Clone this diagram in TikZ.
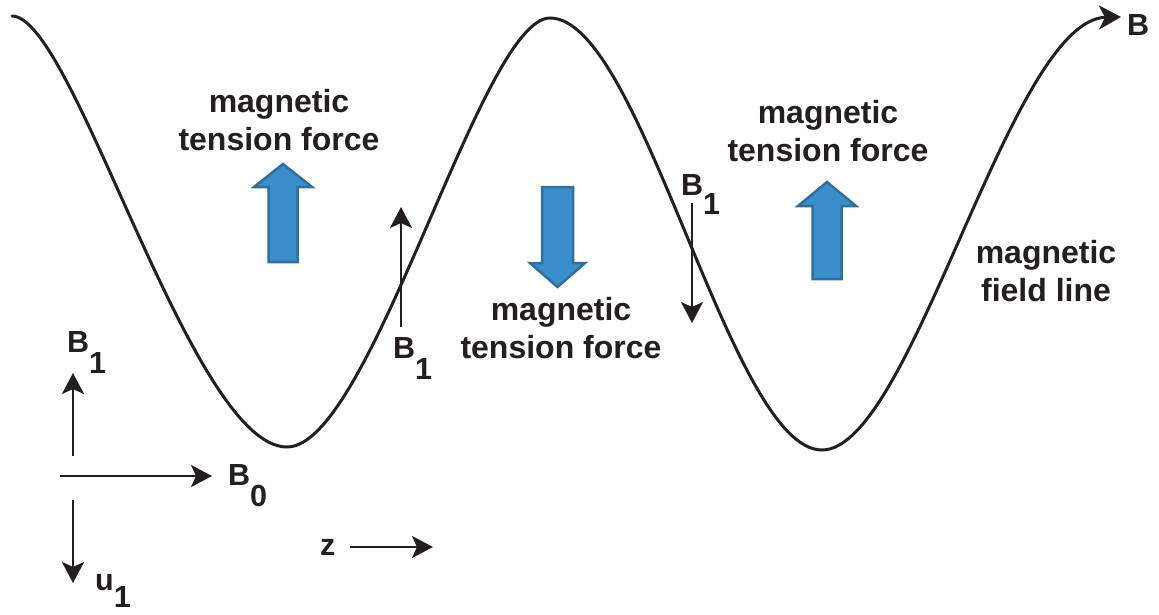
\documentclass[tikz,border=0pt]{standalone}
\usepackage{fontspec}
\setmainfont{Liberation Sans}
\usetikzlibrary{arrows.meta}
\definecolor{ink}{HTML}{231F20}
\definecolor{bfill}{HTML}{3A8FCB}
\definecolor{bline}{HTML}{2F6FA0}
\newcommand\sublab[3][-21pt]{#2\raisebox{#1}{#3}}
\begin{document}
\begin{tikzpicture}[x=1pt,y=-1pt,
  tforce/.style={fill=bfill, draw=bline, line width=2.5pt, line join=miter},
  fline/.style={draw=ink, line width=3pt, line cap=round},
  vec/.style={draw=ink, line width=2.2pt, -{Stealth[length=21pt,width=22pt,inset=5pt]}},
  txt/.style={font=\fontsize{32}{38}\selectfont\bfseries, text=ink, align=center, inner sep=0pt},
  lab/.style={font=\fontsize{30.5}{34}\selectfont\bfseries, text=ink, inner sep=0pt}]
\useasboundingbox (0,0) rectangle (1159,614);
\fill[white] (0,0) rectangle (1159,614);

% magnetic field line
\draw[fline, -{Stealth[length=22pt,width=24pt,inset=6pt]}]
  (12,16) .. controls (74,16) and (191,447) .. (287,447)
          .. controls (371,447) and (481,18) .. (550,18)
          .. controls (642,18) and (730,450) .. (822,450)
          .. controls (912,450) and (1010,19) .. (1121,17);

% blue tension-force arrows
\draw[tforce] (268.5,262) -- (268.5,187) -- (254,187) -- (283,164) -- (312,187) -- (297.5,187) -- (297.5,262) -- cycle;
\draw[tforce] (542,187) -- (573,187) -- (573,263) -- (585,263) -- (557.5,287) -- (530,263) -- (542,263) -- cycle;
\draw[tforce] (812.5,279) -- (812.5,206) -- (798,206) -- (827,182) -- (856,206) -- (841.5,206) -- (841.5,279) -- cycle;

% texts
\node[txt] (t1) at (279,120) {magnetic\\tension force};
\node[txt] (t2) at (561,328) {magnetic\\tension force};
\node[txt] (t3) at (828,131) {magnetic\\tension force};
\node[txt] (t4) at (1046,271) {magnetic\\field line};
\node[lab, anchor=base west] (bend) at (1127,35) {B};

% B1 arrows on the field line
\coordinate (m1a) at (401,327);
\coordinate (m1b) at (401,207);
\draw[vec] (m1a) -- (m1b);
\node[lab, anchor=base west] (bm) at (393,358) {\sublab{B}{1}};
\coordinate (r1a) at (692,203);
\coordinate (r1b) at (692,323);
\draw[vec] (r1a) -- (r1b);
\node[lab, anchor=base west] (br) at (681,195) {\sublab[-19pt]{B}{1}};

% legend axes
\coordinate (ua) at (73,456);
\coordinate (ub) at (73,373);
\draw[vec] (ua) -- (ub);
\node[lab, anchor=base west] (bl) at (67,352) {\sublab{B}{1}};
\coordinate (ra) at (60,476);
\coordinate (rb) at (212,476);
\draw[vec] (ra) -- (rb);
\node[lab, anchor=base west] (b0) at (228,485) {\sublab{B}{0}};
\coordinate (da) at (73,500);
\coordinate (db) at (73,583);
\draw[vec] (da) -- (db);
\node[lab, anchor=base west] (u1) at (95,590) {\sublab[-17pt]{u}{1}};

% z direction
\node[lab, anchor=base west] (z) at (320,555) {z};
\coordinate (za) at (350,547);
\coordinate (zb) at (433,547);
\draw[vec] (za) -- (zb);
\end{tikzpicture}
\end{document}
